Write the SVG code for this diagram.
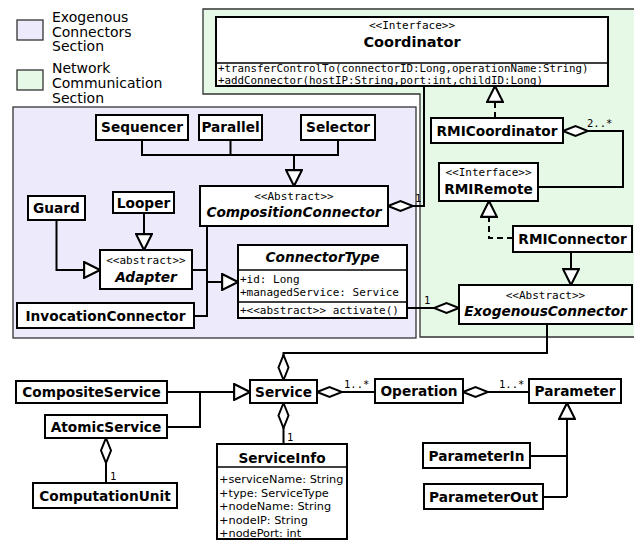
<svg xmlns="http://www.w3.org/2000/svg" width="634" height="540" viewBox="0 0 634 540">
<style>
.box{fill:#fff;stroke:#000;stroke-width:2}
.n{font-family:"DejaVu Sans","Liberation Sans",sans-serif;font-weight:bold;font-size:13.7px;text-anchor:middle;fill:#000}
.ni{font-family:"DejaVu Sans","Liberation Sans",sans-serif;font-weight:bold;font-style:italic;font-size:13.7px;text-anchor:middle;fill:#000}
.st{font-family:"DejaVu Sans Mono","Liberation Mono",monospace;font-size:11px;text-anchor:middle;fill:#000}
.m{font-family:"DejaVu Sans Mono","Liberation Mono",monospace;font-size:11px;fill:#000}
.a{font-family:"DejaVu Sans","Liberation Sans",sans-serif;font-size:11.3px;fill:#000}
.lg{font-family:"DejaVu Sans","Liberation Sans",sans-serif;font-size:14px;fill:#000}
.lbl{font-family:"DejaVu Sans Mono","Liberation Mono",monospace;font-size:10.5px;fill:#000}
.c{fill:none;stroke:#000;stroke-width:2}
.d{stroke-dasharray:6,4}
.g{marker-end:url(#tri)}
.ag{marker-start:url(#dia)}
</style>
<defs>
<marker id="tri" markerUnits="userSpaceOnUse" markerWidth="18" markerHeight="18" refX="15" refY="7.5" orient="auto" viewBox="-1 -1 17 17">
<path d="M0,0 L15,7.5 L0,15 Z" fill="#fff" stroke="#000" stroke-width="2" stroke-dasharray="none"/>
</marker>
<marker id="dia" markerUnits="userSpaceOnUse" markerWidth="28" markerHeight="14" refX="0" refY="5" orient="auto" viewBox="-1 -1 28 12">
<path d="M0,5 L12.5,0 L25,5 L12.5,10 Z" fill="#fff" stroke="#000" stroke-width="2"/>
</marker>
</defs>
<rect width="634" height="540" fill="#fff"/>
<g id="legend">
<rect x="17" y="20" width="26" height="20" fill="#edeafc" stroke="#333" stroke-width="1.3"/>
<text class="lg" x="52" y="22">Exogenous</text>
<text class="lg" x="52" y="36.5">Connectors</text>
<text class="lg" x="52" y="51">Section</text>
<rect x="17" y="70" width="26" height="20" fill="#e6f8e6" stroke="#333" stroke-width="1.3"/>
<text class="lg" x="52" y="73">Network</text>
<text class="lg" x="52" y="88">Communication</text>
<text class="lg" x="52" y="103">Section</text>
</g>
<g id="sections">
<path d="M203,9 H640 V337 H420 V94 H203 Z" fill="#e6f8e6" stroke="#333" stroke-width="1.3"/>
<rect x="13" y="107" width="403" height="231" fill="#edeafc" stroke="#333" stroke-width="1.3"/>
</g>
<g id="connectors">
<path class="c" d="M142,140 V155 H338 V140 M230.5,140 V155"/>
<path class="c g" d="M294,155 V186"/>
<path class="c g" d="M56.5,220 V270 H100"/>
<path class="c g" d="M144,213 V250"/>
<path class="c" d="M192,270 H207 M207,226 V316 H194"/>
<path class="c g" d="M207,282 H238"/>
<path class="c ag" d="M388,206 H424 V86"/>
<text class="lbl" x="415" y="202">1</text>
<path class="c d g" d="M495,118 V86"/>
<path class="c ag" d="M563,131 H623 V187 H538"/>
<text class="lbl" x="587" y="127">2..*</text>
<path class="c d g" d="M513,238 H489 V201"/>
<path class="c g" d="M571,252 V285"/>
<path class="c ag" d="M459,308 H407"/>
<text class="lbl" x="424" y="304">1</text>
<path class="c ag" d="M283.5,380 V353 H547 V324"/>
<path class="c g" d="M167,392 H250"/>
<path class="c" d="M167,427 H200 V392"/>
<path class="c ag" d="M106,438 V483"/>
<text class="lbl" x="110" y="480">1</text>
<path class="c ag" d="M283.5,403 V444"/>
<text class="lbl" x="287" y="441">1</text>
<path class="c ag" d="M317,392 H375"/>
<text class="lbl" x="344" y="388">1..*</text>
<path class="c ag" d="M463,392 H529"/>
<text class="lbl" x="499" y="388">1..*</text>
<path class="c g" d="M567,497 V403"/>
<path class="c" d="M530,456 H567 M543,497 H567"/>
</g>
<g id="Coordinator">
<rect class="box" x="216" y="17" width="392" height="69"/>
<line x1="216" y1="63" x2="608" y2="63" stroke="#000" stroke-width="1.5"/>
<text class="st" x="412" y="29">&lt;&lt;Interface&gt;&gt;</text>
<text class="n" x="412" y="47" style="font-size:14.5px">Coordinator</text>
<text class="m" x="218" y="71.5" style="font-size:10.8px">+transferControlTo(connectorID:Long,operationName:String)</text>
<text class="m" x="218" y="83.5" style="font-size:10.8px">+addConnector(hostIP:String,port:int,childID:Long)</text>
</g>
<g id="RMICoordinator">
<rect class="box" x="431" y="118" width="132" height="25"/>
<text class="n" x="497" y="135.5">RMICoordinator</text>
</g>
<g id="RMIRemote">
<rect class="box" x="439" y="163" width="99" height="38"/>
<text class="st" x="488.5" y="176">&lt;&lt;Interface&gt;&gt;</text>
<text class="n" x="488.5" y="194">RMIRemote</text>
</g>
<g id="RMIConnector">
<rect class="box" x="513" y="226" width="119" height="26"/>
<text class="n" x="572.5" y="244">RMIConnector</text>
</g>
<g id="ExogenousConnector">
<rect class="box" x="459" y="285" width="173" height="39"/>
<text class="st" x="545.5" y="299">&lt;&lt;Abstract&gt;&gt;</text>
<text class="ni" x="545.5" y="316">ExogenousConnector</text>
</g>
<g id="Sequencer">
<rect class="box" x="96" y="115" width="92" height="25"/>
<text class="n" x="142" y="132">Sequencer</text>
</g>
<g id="Parallel">
<rect class="box" x="199" y="115" width="63" height="25"/>
<text class="n" x="230.5" y="132">Parallel</text>
</g>
<g id="Selector">
<rect class="box" x="301" y="115" width="74" height="25"/>
<text class="n" x="338" y="132">Selector</text>
</g>
<g id="CompositionConnector">
<rect class="box" x="200" y="186" width="188" height="40"/>
<text class="st" x="294" y="200">&lt;&lt;Abstract&gt;&gt;</text>
<text class="ni" x="294" y="217">CompositionConnector</text>
</g>
<g id="Guard">
<rect class="box" x="28" y="196" width="57" height="24"/>
<text class="n" x="56.5" y="213">Guard</text>
</g>
<g id="Looper">
<rect class="box" x="113" y="192" width="61" height="21"/>
<text class="n" x="143.5" y="208">Looper</text>
</g>
<g id="Adapter">
<rect class="box" x="100" y="250" width="92" height="39"/>
<text class="st" x="146" y="264">&lt;&lt;abstract&gt;&gt;</text>
<text class="ni" x="146" y="282">Adapter</text>
</g>
<g id="ConnectorType">
<rect class="box" x="238" y="245" width="169" height="73"/>
<line x1="238" y1="270" x2="407" y2="270" stroke="#000" stroke-width="1.5"/>
<line x1="238" y1="302" x2="407" y2="302" stroke="#000" stroke-width="1.5"/>
<text class="ni" x="322.5" y="262">ConnectorType</text>
<text class="m" x="240" y="283">+id: Long</text>
<text class="m" x="240" y="296">+managedService: Service</text>
<text class="m" x="240" y="314">+&lt;&lt;abstract&gt;&gt; activate()</text>
</g>
<g id="InvocationConnector">
<rect class="box" x="17" y="303" width="177" height="25"/>
<text class="n" x="105.5" y="320.5">InvocationConnector</text>
</g>
<g id="CompositeService">
<rect class="box" x="16" y="381" width="151" height="22"/>
<text class="n" x="91.5" y="397">CompositeService</text>
</g>
<g id="AtomicService">
<rect class="box" x="45" y="415" width="122" height="23"/>
<text class="n" x="106" y="432">AtomicService</text>
</g>
<g id="ComputationUnit">
<rect class="box" x="33" y="483" width="144" height="25"/>
<text class="n" x="105" y="501">ComputationUnit</text>
</g>
<g id="Service">
<rect class="box" x="250" y="380" width="67" height="23"/>
<text class="n" x="283.5" y="396.5">Service</text>
</g>
<g id="ServiceInfo">
<rect class="box" x="217" y="444" width="130" height="95"/>
<line x1="217" y1="467" x2="347" y2="467" stroke="#000" stroke-width="1.5"/>
<text class="n" x="282" y="463">ServiceInfo</text>
<text class="a" x="219" y="483">+serviceName: String</text>
<text class="a" x="219" y="496.5">+type: ServiceType</text>
<text class="a" x="219" y="510">+nodeName: String</text>
<text class="a" x="219" y="523.5">+nodeIP: String</text>
<text class="a" x="219" y="537">+nodePort: int</text>
</g>
<g id="Operation">
<rect class="box" x="375" y="379" width="88" height="24"/>
<text class="n" x="419" y="396">Operation</text>
</g>
<g id="Parameter">
<rect class="box" x="529" y="379" width="92" height="24"/>
<text class="n" x="575" y="396">Parameter</text>
</g>
<g id="ParameterIn">
<rect class="box" x="423" y="443" width="107" height="25"/>
<text class="n" x="476.5" y="460.5">ParameterIn</text>
</g>
<g id="ParameterOut">
<rect class="box" x="424" y="484" width="119" height="25"/>
<text class="n" x="483.5" y="502">ParameterOut</text>
</g>
</svg>
